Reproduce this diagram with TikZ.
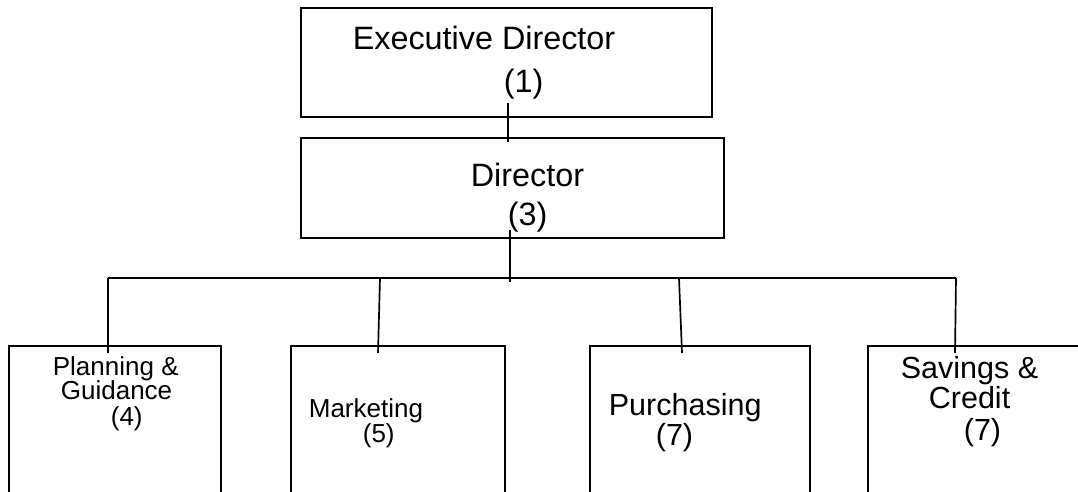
\documentclass[tikz,border=0pt]{standalone}
\usepackage{fontspec}
\setmainfont{Liberation Sans}

\begin{document}
\begin{tikzpicture}[x=0.025cm, y=-0.025cm, line width=1.2pt,
	orgbox/.style={draw, rectangle, anchor=north west, inner sep=0pt},
	lbl/.style={anchor=base west, inner sep=0pt}]
	\useasboundingbox (0, 0) rectangle (1078, 492);
	\clip (0, 0) rectangle (1078, 492);
	
	% Boxes
	\node[orgbox, minimum width=10.275cm, minimum height=2.725cm] (exec) at (300, 7) {};
	\node[orgbox, minimum width=10.575cm, minimum height=2.5cm] (dir) at (300, 137) {};
	\node[orgbox, minimum width=5.3cm, minimum height=5cm] (plan) at (8, 345) {};
	\node[orgbox, minimum width=5.35cm, minimum height=5cm] (mark) at (290, 345) {};
	\node[orgbox, minimum width=5.5cm, minimum height=5cm] (purch) at (589, 345) {};
	\node[orgbox, minimum width=6cm, minimum height=5cm] (sav) at (867, 345) {};
	
	% Ends of the connectors
	\coordinate (e1) at (508, 103);
	\coordinate (d1) at (508, 142);
	\coordinate (d2) at (510, 230);
	\coordinate (b0) at (510, 282);
	\coordinate (bl) at (108, 278);
	\coordinate (br) at (956, 278);
	\coordinate (t2) at (380, 278);
	\coordinate (t3) at (679, 278);
	\coordinate (p1) at (108, 353);
	\coordinate (p2) at (378, 353);
	\coordinate (p3) at (682, 353);
	\coordinate (p4) at (955, 353);
	
	\draw (e1) -- (d1);
	\draw (d2) -- (b0);
	\draw (bl) -- (br); % Horizontal bus
	\draw (bl) -- (p1);
	\draw (t2) -- (p2);
	\draw (t3) -- (p3);
	\draw (br) -- (p4);
	
	% Labels
	\begin{scope}[every node/.append style={font=\fontsize{23}{23}\selectfont}]
	\node[lbl] (execname) at (352, 50) {Executive Director};
	\node[lbl] (execnum) at (503, 93) {(1)};
	\node[lbl] (dirname) at (470, 187) {Director};
	\node[lbl] (dirnum) at (507, 225) {(3)};
	\end{scope}
	
	\begin{scope}[every node/.append style={font=\fontsize{18.5}{18.5}\selectfont}]
	\node[lbl] (planname1) at (52, 375) {Planning \&};
	\node[lbl] (planname2) at (60, 399) {Guidance};
	\node[lbl] (plannum) at (110, 425) {(4)};
	\node[lbl] (markname) at (308, 417) {Marketing};
	\node[lbl] (marknum) at (362, 442) {(5)};
	\end{scope}
	
	\begin{scope}[every node/.append style={font=\fontsize{21.7}{21.7}\selectfont}]
	\node[lbl] (purchname) at (608, 415) {Purchasing};
	\node[lbl] (purchnum) at (655, 445) {(7)};
	\node[lbl] (savname1) at (900, 378) {Savings \&};
	\node[lbl] (savname2) at (928, 408) {Credit};
	\node[lbl] (savnum) at (963, 440) {(7)};
	\end{scope}
\end{tikzpicture}
\end{document}
